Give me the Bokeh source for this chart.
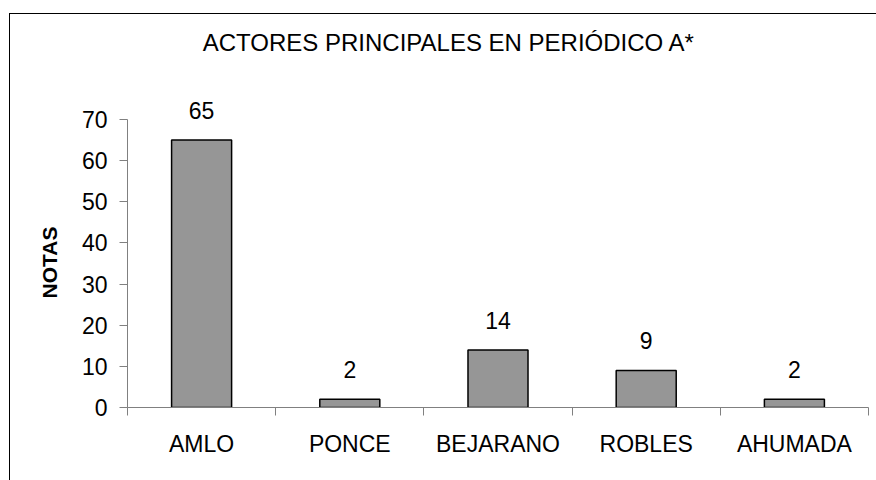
from bokeh.plotting import figure
from bokeh.models import Range1d, FixedTicker, LabelSet, ColumnDataSource, Label, Title
from bokeh.core.properties import value
from bokeh.embed import file_html
from bokeh.resources import INLINE

# ---- data ----
categories = ["AMLO", "PONCE", "BEJARANO", "ROBLES", "AHUMADA"]
notas = [65, 2, 14, 9, 2]
y_ticks = [0, 10, 20, 30, 40, 50, 60, 70]
title_text = "ACTORES PRINCIPALES EN PERIÓDICO A*"
y_label = "NOTAS"

FONT = "Liberation Sans"

xpos = [i + 0.5 for i in range(len(categories))]
bounds = list(range(len(categories) + 1))
src = ColumnDataSource(dict(x=xpos, top=notas, label=[str(v) for v in notas]))

# frame extends above the 70 tick so the title and value labels are not clipped
p = figure(width=876, height=480, output_backend="svg", toolbar_location=None,
           x_range=Range1d(0, len(categories)), y_range=Range1d(0, 95),
           min_border_left=127, min_border_right=8, min_border_top=16, min_border_bottom=73,
           tools="")
p.outline_line_color = None
p.xgrid.visible = False
p.ygrid.visible = False
p.background_fill_color = None
p.border_fill_color = None
# chart border: only its top and left edges are visible in the reference
p.styles = {
    "background-color": "white",
    "background-image": "linear-gradient(#000, #000), linear-gradient(#000, #000)",
    "background-position": "9px 13px, 9px 13px",
    "background-size": "1px 100%, 100% 1px",
    "background-repeat": "no-repeat, no-repeat",
}

# chart title
p.add_layout(Label(x=448.5, y=42, x_units="canvas", y_units="canvas", text=title_text,
                   text_align="center", text_baseline="middle",
                   text_font=FONT, text_font_size="24px", text_color="black"))

# bars
p.vbar(x="x", top="top", width=0.405, source=src, fill_color="#969696",
       line_color="black", line_width=1.5)

# value labels
p.add_layout(LabelSet(x="x", y="top", text="label", source=src, y_offset=21,
                      text_align="center", text_baseline="alphabetic",
                      text_font=value(FONT), text_font_size="23px", text_color="black"))

axis_gray = "#808080"

# y axis
ya = p.yaxis[0]
ya.bounds = (y_ticks[0], y_ticks[-1])
ya.ticker = FixedTicker(ticks=y_ticks)
ya.major_tick_out = 8
ya.major_tick_in = 0
ya.minor_tick_out = 0
ya.minor_tick_in = 0
ya.axis_line_color = axis_gray
ya.major_tick_line_color = axis_gray
ya.major_label_text_font = FONT
ya.major_label_text_font_size = "23px"
ya.major_label_text_color = "black"
ya.major_label_standoff = 12

# y axis title (rotated, outside the frame)
p.add_layout(Title(text=y_label, align="left", offset=109, vertical_align="bottom",
                   standoff=36, text_font=FONT, text_font_size="21px",
                   text_font_style="bold", text_color="black"), "left")

# x axis
xa = p.xaxis[0]
xa.ticker = FixedTicker(ticks=xpos, minor_ticks=bounds)
xa.major_tick_out = 0
xa.major_tick_in = 0
xa.minor_tick_out = 8
xa.minor_tick_in = 0
xa.axis_line_color = axis_gray
xa.minor_tick_line_color = axis_gray
xa.major_label_overrides = {x: c for x, c in zip(xpos, categories)}
xa.major_label_text_font = FONT
xa.major_label_text_font_size = "23px"
xa.major_label_text_color = "black"
xa.major_label_standoff = 15

open("out.html", "w").write(file_html(p, INLINE))
